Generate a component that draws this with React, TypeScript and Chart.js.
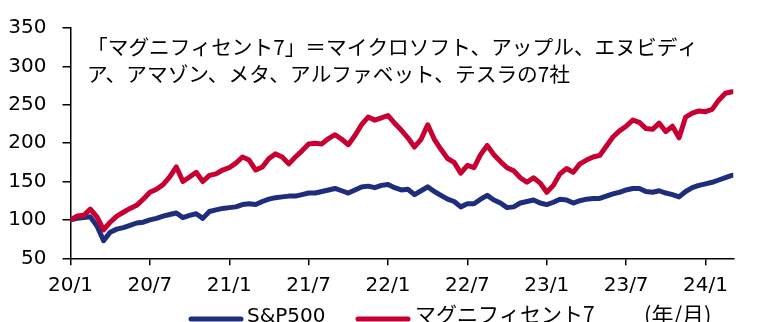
import React, { useEffect, useRef } from "react";
import { Chart, registerables } from "chart.js";

Chart.register(...registerables);

// Months since 2020/1 (x positions of the data samples)
const months = [
  0, 0.5, 1, 1.5, 2, 2.5, 3, 3.5, 4, 4.5, 5, 5.5, 6, 6.5, 7, 7.5, 8, 8.5, 9, 9.5,
  10, 10.5, 11, 11.5, 12, 12.5, 13, 13.5, 14, 14.5, 15, 15.5, 16, 16.5, 17, 17.5, 18, 18.5, 19, 19.5,
  20, 20.5, 21, 21.5, 22, 22.5, 23, 23.5, 24, 24.5, 25, 25.5, 26, 26.5, 27, 27.5, 28, 28.5, 29, 29.5,
  30, 30.5, 31, 31.5, 32, 32.5, 33, 33.5, 34, 34.5, 35, 35.5, 36, 36.5, 37, 37.5, 38, 38.5, 39, 39.5,
  40, 40.5, 41, 41.5, 42, 42.5, 43, 43.5, 44, 44.5, 45, 45.5, 46, 46.5, 47, 47.5, 48, 48.5, 49, 49.5,
  50,
];

const sp500 = [
  100, 102, 103, 104, 92, 73, 84, 88, 90, 93, 96, 97, 100, 102, 105, 107, 109, 103, 106, 108,
  102, 111, 113, 115, 116, 117, 120, 121, 120, 124, 127, 129, 130, 131, 131, 133, 135, 135, 137, 139,
  141, 138, 135, 139, 143, 144, 142, 145, 146, 142, 139, 140, 133, 138, 143, 137, 132, 127, 124, 117,
  121, 121, 127, 132, 126, 122, 116, 117, 122, 124, 126, 122, 120, 123, 127, 126, 122, 125, 127, 128,
  128, 131, 134, 136, 139, 141, 141, 137, 136, 138, 135, 133, 130, 137, 142, 145, 147, 149, 152, 155,
  158,
];

const mag7 = [
  100, 105, 106, 114, 104, 87, 97, 105, 110, 115, 119, 127, 136, 140, 146, 156, 169, 150, 156, 162,
  150, 158, 160, 165, 168, 174, 182, 178, 165, 169, 180, 186, 182, 173, 182, 190, 199, 200, 199, 206,
  211, 205, 198, 210, 224, 234, 230, 233, 236, 226, 217, 207, 195, 205, 224, 205, 192, 180, 175, 161,
  171, 168, 185, 197, 185, 176, 168, 164, 155, 149, 155, 148, 136, 145, 160, 167, 162, 173, 178, 182,
  184, 196, 208, 216, 222, 230, 227, 219, 218, 226, 215, 222, 207, 234, 239, 242, 241, 244, 256, 265,
  267,
];

const xTickMonths = [0, 6, 12, 18, 24, 30, 36, 42, 48];
const xTickLabels = ["20/1", "20/7", "21/1", "21/7", "22/1", "22/7", "23/1", "23/7", "24/1"];
const yTicks = [50, 100, 150, 200, 250, 300, 350];

const seriesNames = ["S&P500", "マグニフィセント7"];
const seriesColors = ["#1F2D7D", "#C80032"];
const noteLines = [
  "「マグニフィセント7」＝マイクロソフト、アップル、エヌビディ",
  "ア、アマゾン、メタ、アルファベット、テスラの7社",
];
const unitLabel = "(年/月)";

const latinFont = '"DejaVu Sans", Verdana, sans-serif';
const cjkFont = '"Noto Sans CJK JP", sans-serif';

const overlayPlugin = {
  id: "overlay",
  afterDraw(chart: any) {
    const ctx = chart.ctx as CanvasRenderingContext2D;
    ctx.save();
    ctx.fillStyle = "#000";
    ctx.textAlign = "left";
    ctx.textBaseline = "middle";
    ctx.font = `20.7px ${cjkFont}`;
    ctx.fillText(noteLines[0], 87, 47);
    ctx.fillText(noteLines[1], 87, 74);

    // legend
    ctx.lineWidth = 5;
    ctx.lineCap = "round";
    ctx.strokeStyle = seriesColors[0];
    ctx.beginPath();
    ctx.moveTo(191, 319);
    ctx.lineTo(241, 319);
    ctx.stroke();
    ctx.strokeStyle = seriesColors[1];
    ctx.beginPath();
    ctx.moveTo(358, 319);
    ctx.lineTo(408, 319);
    ctx.stroke();

    ctx.textBaseline = "alphabetic";
    ctx.font = `20px ${latinFont}`;
    ctx.fillText(seriesNames[0], 247, 322);
    ctx.font = `21px ${cjkFont}`;
    ctx.fillText(seriesNames[1], 415, 322);

    ctx.font = `22px ${cjkFont}`;
    ctx.fillText(unitLabel, 644, 323);
    ctx.restore();
  },
};

export default function App() {
  const canvasRef = useRef<HTMLCanvasElement | null>(null);

  useEffect(() => {
    if (!canvasRef.current) return;
    const chart = new Chart(canvasRef.current, {
      type: "line",
      data: {
        datasets: [
          {
            label: seriesNames[0],
            data: months.map((m, i) => ({ x: m, y: sp500[i] })),
            borderColor: seriesColors[0],
            backgroundColor: seriesColors[0],
            borderWidth: 5,
            pointRadius: 0,
            tension: 0,
            borderJoinStyle: "round",
            borderCapStyle: "round",
            order: 1,
          },
          {
            label: seriesNames[1],
            data: months.map((m, i) => ({ x: m, y: mag7[i] })),
            borderColor: seriesColors[1],
            backgroundColor: seriesColors[1],
            borderWidth: 5,
            pointRadius: 0,
            tension: 0,
            borderJoinStyle: "round",
            borderCapStyle: "round",
            order: 0,
          },
        ],
      },
      options: {
        animation: false,
        responsive: true,
        maintainAspectRatio: false,
        layout: { padding: { top: 20.7, right: 41.7, bottom: 23.7, left: 0 } },
        plugins: {
          legend: { display: false },
          tooltip: { enabled: false },
        },
        scales: {
          x: {
            type: "linear",
            min: 0,
            max: 50.1,
            afterBuildTicks: (s: any) => {
              s.ticks = xTickMonths.map((v) => ({ value: v }));
            },
            afterFit: (s: any) => {
              s.height = 40;
            },
            ticks: {
              autoSkip: false,
              maxRotation: 0,
              padding: 8,
              color: "#000",
              font: { family: latinFont, size: 20 },
              callback: (v: any) => xTickLabels[xTickMonths.indexOf(Number(v))] ?? "",
            },
            grid: {
              drawOnChartArea: false,
              drawTicks: true,
              tickLength: 7,
              color: "#000",
              lineWidth: 1.5,
            },
            border: { display: true, color: "#000", width: 1.5 },
          },
          y: {
            type: "linear",
            min: 50,
            max: 350,
            afterBuildTicks: (s: any) => {
              s.ticks = yTicks.map((v) => ({ value: v }));
            },
            afterFit: (s: any) => {
              s.width = 70.5;
            },
            ticks: {
              padding: 16,
              color: "#000",
              font: { family: latinFont, size: 20 },
            },
            grid: {
              drawOnChartArea: false,
              drawTicks: true,
              tickLength: 8,
              color: "#000",
              lineWidth: 1.5,
            },
            border: { display: true, color: "#000", width: 1.5 },
          },
        },
      },
      plugins: [overlayPlugin],
    });
    return () => chart.destroy();
  }, []);

  return (
    <div style={{ position: "fixed", left: 0, top: 0, width: 775, height: 322, background: "#fff" }}>
      <canvas ref={canvasRef} />
    </div>
  );
}
